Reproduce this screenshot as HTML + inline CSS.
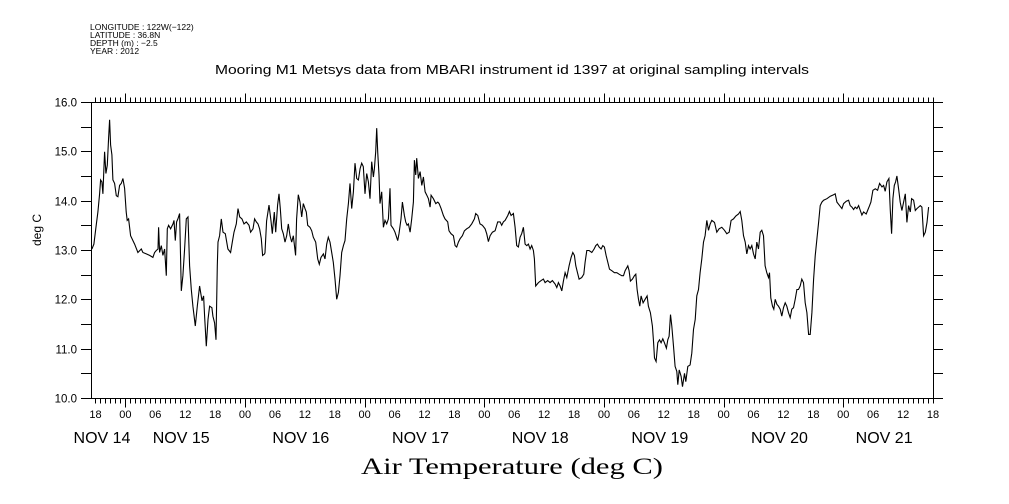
<!DOCTYPE html>
<html><head><meta charset="utf-8"><style>
html,body{margin:0;padding:0;background:#fff;}
svg{display:block;}
text{font-family:"Liberation Sans",sans-serif;fill:#000;}
</style></head><body>
<svg id="chart" width="1009" height="504" viewBox="0 0 1009 504">
<g font-size="8.5">
<text x="90" y="30">LONGITUDE : 122W(−122)</text>
<text x="90" y="38">LATITUDE : 36.8N</text>
<text x="90" y="46">DEPTH (m) : −2.5</text>
<text x="90" y="54">YEAR : 2012</text>
</g>
<text x="512" y="74" font-size="13" text-anchor="middle" textLength="594" lengthAdjust="spacingAndGlyphs">Mooring M1 Metsys data from MBARI instrument id 1397 at original sampling intervals</text>
<text x="0" y="0" font-size="12" text-anchor="middle" transform="translate(41,230) rotate(-90)">deg C</text>
<text x="512" y="474" font-size="23" text-anchor="middle" textLength="302" lengthAdjust="spacingAndGlyphs" style="font-family:'Liberation Serif',serif">Air Temperature (deg C)</text>
<g id="axes"></g>
<g id="series"></g>
</svg>
<script>
const times = [17.28,17.68,18.15,18.49,18.82,19.02,19.29,19.49,19.69,19.82,20.09,20.36,20.63,20.83,21.03,21.30,21.50,21.83,22.17,22.50,22.83,23.17,23.50,23.84,24.17,24.37,24.64,25.04,25.84,26.51,27.18,27.52,28.19,28.85,29.52,29.86,30.19,30.53,30.66,30.86,31.20,31.53,31.87,32.20,32.40,32.67,33.07,33.54,33.74,34.01,34.27,34.54,34.87,35.21,35.54,35.88,36.21,36.55,36.88,37.22,37.55,38.02,38.42,38.89,39.36,39.69,39.89,40.23,40.56,40.90,41.36,41.56,41.90,42.17,42.43,42.57,42.90,43.24,43.57,44.04,44.57,45.11,45.44,45.78,46.25,46.58,46.92,47.38,47.79,48.25,48.79,49.12,49.59,49.92,50.26,50.59,50.93,51.26,51.53,51.93,
52.00,52.33,52.80,53.20,53.47,53.87,54.14,54.54,54.81,55.08,55.35,55.68,56.01,56.35,56.68,57.02,57.35,57.69,58.15,58.35,58.69,59.02,59.36,59.69,60.03,60.29,60.56,61.03,61.37,61.70,62.17,62.57,62.90,63.24,63.71,64.04,64.38,64.71,65.05,65.38,65.71,66.05,66.38,66.72,67.05,67.39,67.72,68.06,68.39,68.73,69.06,69.39,69.73,70.06,70.40,70.73,71.07,71.40,71.73,72.07,72.40,72.74,73.07,73.41,73.74,73.94,74.21,74.41,74.61,74.88,75.08,75.41,75.75,76.08,76.42,76.75,77.08,77.28,77.75,78.09,78.62,78.89,79.29,79.56,79.96,80.23,80.50,80.77,81.10,81.44,81.78,81.98,82.24,82.44,82.78,83.11,83.45,83.78,84.12,84.45,84.79,85.12,85.32,85.79,86.26,86.66,86.92,87.32,87.79,
88.12,88.66,88.92,89.32,89.79,90.13,90.46,90.80,91.13,91.60,92.00,92.47,92.94,93.47,94.01,94.27,94.68,95.14,95.61,96.15,96.48,96.82,97.15,97.62,98.15,98.69,99.16,99.49,99.83,100.16,100.70,101.03,101.36,101.83,102.17,102.50,102.84,103.17,103.50,103.84,104.17,104.51,104.84,105.18,105.51,105.85,106.05,106.31,106.85,107.38,107.85,108.19,108.72,109.19,109.66,110.19,110.53,110.86,111.20,111.53,111.87,112.20,112.54,113.00,113.40,113.74,114.07,114.34,114.68,115.01,115.54,115.95,116.21,116.55,117.02,117.55,118.02,118.35,118.69,119.02,119.42,119.76,120.09,120.43,120.76,121.10,121.56,122.10,122.57,123.04,123.57,123.91,
124.24,124.78,125.04,125.31,125.71,126.11,126.38,126.65,126.92,127.18,127.45,127.85,128.25,128.65,128.92,129.32,129.72,129.93,130.13,130.46,130.80,131.13,131.46,131.80,132.13,132.53,132.80,133.07,133.34,133.60,133.94,134.27,134.61,134.81,135.08,135.48,135.75,136.15,136.41,136.82,137.28,137.62,137.95,138.29,138.62,138.96,139.29,139.62,139.96,140.29,140.63,140.96,141.30,141.63,142.17,142.63,143.10,143.64,144.17,144.64,145.11,145.51,145.98,146.45,146.98,147.32,147.65,147.99,148.32,148.65,148.99,149.32,149.66,149.99,150.33,150.66,151.00,151.33,151.66,152.00,152.33,152.67,153.00,153.20,153.47,153.81,154.07,154.34,154.68,155.01,155.34,155.68,156.01,156.35,156.68,157.02,157.35,157.68,158.02,158.35,158.69,159.02,159.36,159.69,160.02,160.36,
160.70,161.04,161.37,161.71,162.04,162.38,162.71,163.05,163.38,163.71,164.05,164.72,165.39,166.06,166.39,166.72,167.26,167.73,168.06,168.60,169.07,169.40,169.73,170.07,170.40,170.74,171.07,171.41,171.74,172.08,172.61,172.88,173.28,173.55,173.95,174.42,174.89,175.29,175.76,176.09,176.42,176.76,177.16,177.43,177.69,177.96,178.23,178.50,178.76,179.10,179.43,179.77,180.10,180.44,180.77,181.11,181.44,181.71,182.11,182.44,182.78,183.11,183.45,183.78,184.12,184.45,184.79,185.12];
const temps = [13.02,13.12,13.50,13.77,14.14,14.42,14.38,14.14,14.65,14.99,14.55,14.72,15.27,15.64,15.13,14.93,14.42,14.35,14.10,14.08,14.31,14.35,14.45,14.25,13.77,13.60,13.63,13.29,13.12,12.95,13.02,12.95,12.92,12.89,12.85,12.95,12.99,13.02,13.46,12.95,13.09,12.89,13.02,12.48,13.43,13.50,13.43,13.53,13.60,13.19,13.57,13.63,13.74,12.17,12.48,13.02,13.63,13.67,12.68,12.20,11.86,11.46,11.86,12.27,11.97,12.07,11.66,11.05,11.59,11.86,11.83,11.66,11.52,11.18,12.68,13.16,13.29,13.63,13.36,13.33,13.02,12.95,13.16,13.36,13.53,13.84,13.67,13.63,13.53,13.57,13.50,13.36,13.43,13.63,13.57,13.53,13.43,13.23,12.89,12.92,
12.95,13.59,13.91,13.59,13.33,13.77,13.36,13.91,14.14,13.84,13.43,13.33,13.16,13.29,13.53,13.29,13.16,13.29,12.89,13.63,14.12,13.97,13.67,13.94,13.84,13.77,13.50,13.46,13.39,13.26,13.16,12.82,12.71,12.85,12.92,12.82,13.12,13.26,13.16,12.95,12.75,12.41,12.00,12.14,12.48,12.95,13.09,13.19,13.63,13.94,14.35,13.84,14.18,14.76,14.45,14.42,14.65,14.76,14.69,14.14,14.55,14.38,14.04,14.79,14.48,14.65,14.99,15.47,14.99,14.52,13.94,14.18,13.46,13.60,13.53,13.63,14.25,13.50,13.43,13.36,13.19,13.33,13.63,13.97,13.70,13.57,13.50,13.53,13.36,13.63,13.97,14.82,14.52,14.86,14.45,14.59,14.31,14.48,14.18,14.11,14.04,13.87,14.11,14.04,13.94,13.97,13.94,13.84,13.70,
13.63,13.57,13.39,13.33,13.29,13.09,13.06,13.16,13.23,13.29,13.39,13.43,13.46,13.53,13.63,13.74,13.70,13.53,13.50,13.43,13.33,13.17,13.29,13.36,13.39,13.57,13.57,13.50,13.57,13.60,13.70,13.78,13.70,13.74,13.46,13.09,13.06,13.26,13.33,13.46,13.12,13.09,13.12,13.02,13.09,12.99,12.82,12.27,12.34,12.38,12.41,12.34,12.38,12.34,12.38,12.31,12.24,12.34,12.27,12.17,12.37,12.54,12.44,12.68,12.85,12.95,12.89,12.68,12.54,12.41,12.44,12.51,12.75,12.99,12.99,12.95,13.02,13.09,13.12,13.06,13.02,13.09,13.06,12.89,12.75,12.61,12.58,12.54,12.54,12.51,12.48,12.48,
12.58,12.68,12.58,12.37,12.41,12.48,12.51,12.20,12.00,11.86,12.07,11.93,12.00,12.07,11.86,11.73,11.46,11.15,10.81,10.74,11.12,11.18,11.12,11.20,11.12,11.01,11.18,11.25,11.69,11.46,11.05,10.64,10.54,10.27,10.57,10.44,10.23,10.50,10.33,10.64,10.67,10.91,11.39,11.59,12.07,12.20,12.54,12.82,13.16,13.29,13.60,13.40,13.53,13.60,13.56,13.36,13.43,13.46,13.40,13.33,13.36,13.60,13.63,13.69,13.73,13.78,13.60,13.29,13.16,12.92,13.09,13.02,13.09,12.92,12.82,13.16,13.02,13.36,13.40,13.29,12.68,12.54,12.44,12.54,12.03,11.86,11.80,12.00,11.90,11.86,11.80,11.66,11.83,11.93,11.86,11.73,11.63,11.80,11.83,12.00,12.20,12.20,12.27,12.41,12.34,11.93,
11.73,11.29,11.29,11.73,12.41,12.88,13.22,13.56,13.90,13.97,14.01,14.04,14.09,14.12,14.14,13.97,13.90,13.84,13.94,13.99,14.01,13.90,13.87,13.82,13.87,13.84,13.90,13.80,13.71,13.77,13.73,13.80,13.90,13.97,14.21,14.24,14.21,14.35,14.28,14.31,14.19,14.38,14.45,13.80,13.33,14.04,14.31,14.38,14.50,14.24,13.97,13.80,13.97,14.14,13.56,13.90,13.77,14.04,14.01,13.80,13.84,13.87,13.90,13.87,13.29,13.36,13.56,13.87];
const yTickValues = [10,10.5,11,11.5,12,12.5,13,13.5,14,14.5,15,15.5,16];
const yTickLabels = ["10.0","","11.0","","12.0","","13.0","","14.0","","15.0","","16.0"];
const hourTickLabels = ["18","00","06","12","18","00","06","12","18","00","06","12","18","00","06","12","18","00","06","12","18","00","06","12","18","00","06","12","18"];
const dayLabels = ["NOV 14","NOV 15","NOV 16","NOV 17","NOV 18","NOV 19","NOV 20","NOV 21"];

const X0=91,X1=933,Y0=398,Y1=102,H0=17.1,H1=186,V0=10,V1=16;
function xs(h){return X0+(h-H0)*(X1-X0)/(H1-H0);}
function ys(v){return Y0-(v-V0)*(Y0-Y1)/(V1-V0);}
const NS="http://www.w3.org/2000/svg";
const axes=document.getElementById('axes');
function line(x1,y1,x2,y2,name){
  const l=document.createElementNS(NS,'line');
  l.setAttribute('x1',x1);l.setAttribute('y1',y1);l.setAttribute('x2',x2);l.setAttribute('y2',y2);
  l.setAttribute('stroke','#000');l.setAttribute('stroke-width','1');
  
  
  axes.appendChild(l);
}
function txt(x,y,s,size,anchor,name){
  const t=document.createElementNS(NS,'text');
  t.setAttribute('x',x);t.setAttribute('y',y);t.setAttribute('font-size',size);t.setAttribute('text-anchor',anchor);
  t.textContent=s;
  
  
  axes.appendChild(t);
}
const fr=document.createElementNS(NS,'rect');
fr.setAttribute('x',X0+0.5);fr.setAttribute('y',Y1+0.5);fr.setAttribute('width',X1-X0);fr.setAttribute('height',Y0-Y1);
fr.setAttribute('fill','none');fr.setAttribute('stroke','#000');


axes.appendChild(fr);
yTickValues.forEach((v,i)=>{
  const y=Math.round(ys(v))+0.5;
  line(X0-10,y,X0,y,'y-tick-left');
  line(X1+0.5,y,X1+10,y,'y-tick-right');
  if(yTickLabels[i]) txt(X0-14,y+4,yTickLabels[i],11.5,'end','y-tick-label');
});
for(let h=Math.ceil(H0);h<=H1;h++){
  const x=Math.round(xs(h))+0.5;
  const major=(h%24===0);
  const len=major?9:5;
  line(x,Y0+0.5,x,Y0+0.5+len,'x-tick-bottom');
  line(x,Y1+0.5,x,Y1+0.5-len,'x-tick-top');
}
hourTickLabels.forEach((s,i)=>{
  const h=18+6*i;
  txt(xs(h),418,s,11,'middle','hour-tick-label');
});
dayLabels.forEach((s,i)=>{
  const a=Math.max(H0,24*i),b=Math.min(H1,24*(i+1));
  let c=xs((a+b)/2)-4;
  if(i===0)c=102;
  txt(c,443,s,16,'middle','day-label');
});
let d='';
for(let i=0;i<times.length;i++){d+=(i?'L':'M')+xs(times[i]).toFixed(1)+' '+ys(temps[i]).toFixed(1);}
const p=document.createElementNS(NS,'path');
p.setAttribute('d',d);p.setAttribute('fill','none');p.setAttribute('stroke','#000');p.setAttribute('stroke-width','1.1');


document.getElementById('series').appendChild(p);
</script>
</body></html>
